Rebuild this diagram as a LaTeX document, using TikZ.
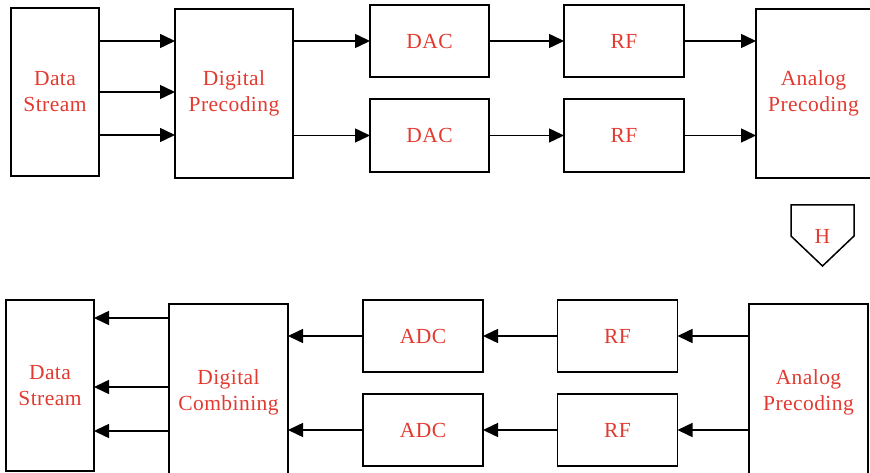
\documentclass[tikz,border=0pt]{standalone}
\usepackage{fontspec}
\setmainfont{Liberation Serif}[LetterSpace=2]
\usetikzlibrary{arrows.meta}
\definecolor{txtred}{RGB}{226,58,48}
\begin{document}
\begin{tikzpicture}[x=1pt,y=-1pt,
  box/.style={draw=black,line width=1.5pt,rectangle,inner sep=0pt,outer sep=0pt,
    text=txtred,align=center,font=\fontsize{21.5}{26}\selectfont},
  arr/.style={line width=1.5pt,-{Triangle[length=15pt,width=14pt]}},
  lbl/.style={text=txtred,align=center,font=\fontsize{21.5}{26}\selectfont,inner sep=0pt}]
\useasboundingbox (0,0) rectangle (870,473);
\clip (0,0) rectangle (870,473);
% top row
\node[box,minimum width=88pt,minimum height=168pt] (ds1) at (55,92) {Data\\Stream};
\node[box,minimum width=118pt,minimum height=169pt] (dp) at (234,93.5) {Digital\\Precoding};
\node[box,minimum width=119pt,minimum height=72pt] (dac1) at (429.5,41) {DAC};
\node[box,minimum width=119pt,minimum height=73pt] (dac2) at (429.5,135.5) {DAC};
\node[box,minimum width=120pt,minimum height=72pt] (rf1) at (624,41) {RF};
\node[box,minimum width=120pt,minimum height=73pt] (rf2) at (624,135.5) {RF};
\node[box,minimum width=115pt,minimum height=169pt] (ap1) at (813.5,93.5) {Analog\\Precoding};
\draw[arr] (ds1.east |- 0,41) -- (dp.west |- 0,41);
\draw[arr] (ds1.east |- 0,92) -- (dp.west |- 0,92);
\draw[arr] (ds1.east |- 0,135) -- (dp.west |- 0,135);
\draw[arr] (dp.east |- dac1) -- (dac1.west);
\draw[arr] (dp.east |- dac2) -- (dac2.west);
\draw[arr] (dac1.east) -- (rf1.west);
\draw[arr] (dac2.east) -- (rf2.west);
\draw[arr] (rf1.east) -- (ap1.west |- rf1);
\draw[arr] (rf2.east) -- (ap1.west |- rf2);
% channel
\draw[line width=1.5pt,line join=miter] (791,205) -- (854,205) -- (854,236) -- (822.5,266) -- (791,236) -- cycle;
\node[lbl] (h) at (822.5,236) {H};
% bottom row
\node[box,minimum width=88pt,minimum height=171pt] (ds2) at (50,385.5) {Data\\Stream};
\node[box,minimum width=119pt,minimum height=176pt] (dc) at (228.5,392) {Digital\\Combining};
\node[box,minimum width=120pt,minimum height=72pt] (adc1) at (423,336) {ADC};
\node[box,minimum width=120pt,minimum height=72pt] (adc2) at (423,430) {ADC};
\node[box,minimum width=120pt,minimum height=72pt] (rf3) at (617.5,336) {RF};
\node[box,minimum width=120pt,minimum height=72pt] (rf4) at (617.5,430) {RF};
\node[box,minimum width=119pt,minimum height=176pt] (ap2) at (808.5,392) {Analog\\Precoding};
\draw[arr] (ap2.west |- rf3) -- (rf3.east);
\draw[arr] (ap2.west |- rf4) -- (rf4.east);
\draw[arr] (rf3.west) -- (adc1.east);
\draw[arr] (rf4.west) -- (adc2.east);
\draw[arr] (adc1.west) -- (dc.east |- adc1);
\draw[arr] (adc2.west) -- (dc.east |- adc2);
\draw[arr] (dc.west |- 0,318) -- (ds2.east |- 0,318);
\draw[arr] (dc.west |- 0,387) -- (ds2.east |- 0,387);
\draw[arr] (dc.west |- 0,431) -- (ds2.east |- 0,431);
\end{tikzpicture}
\end{document}
